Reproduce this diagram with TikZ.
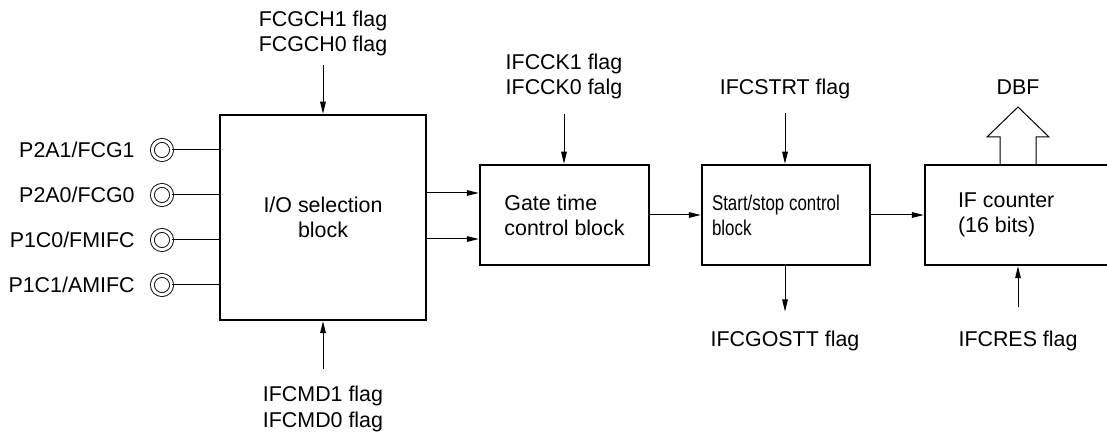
\documentclass[tikz,border=0pt]{standalone}
\usepackage{fontspec}
\setmainfont{Liberation Sans}
\newfontfamily\narrowfont[FakeStretch=0.79]{Liberation Sans}
\usetikzlibrary{arrows.meta}

\begin{document}
\begin{tikzpicture}[x=0.5pt,y=-0.5pt,font=\fontsize{10.7}{12.6}\selectfont,
    blk/.style={draw,line width=1.25pt,minimum height=50pt,inner sep=0pt},
    arr/.style={line width=0.5pt,-{Triangle[length=6pt,width=2.8pt]}},
    lbl/.style={inner sep=0pt,align=center},
    pinring/.style={circle,draw,line width=0.45pt,double,double distance=1.5pt,minimum size=9.6pt,inner sep=0pt}]
\useasboundingbox (0,0) rectangle (1107,432);

% blocks
\node[blk,minimum width=103pt,minimum height=102.5pt,align=center] (io) at (323,217.5) {I/O selection\\block};
\node[blk,minimum width=84.5pt,align=left] (gate) at (564.5,215) {Gate time\\control block};
\node[blk,text width=74pt,inner xsep=5pt,align=flush left,font=\narrowfont\fontsize{10.7}{12.6}\selectfont] (ss) at (786,215) {Start/stop control\\block};
\node[blk,text width=104.5pt,inner xsep=16.5pt,align=flush left] (ifc) at (1062.5,215) {IF counter\\(16 bits)};

% pins
\node[pinring] (pa1) at (162,150) {};
\node[lbl,anchor=base east] (pa1t) at (135,157.5) {P2A1/FCG1};
\draw[line width=0.5pt] (pa1) -- (pa1 -| io.west);
\node[pinring] (pa0) at (162,195) {};
\node[lbl,anchor=base east] (pa0t) at (135,202.5) {P2A0/FCG0};
\draw[line width=0.5pt] (pa0) -- (pa0 -| io.west);
\node[pinring] (pc0) at (162,240) {};
\node[lbl,anchor=base east] (pc0t) at (135,247.5) {P1C0/FMIFC};
\draw[line width=0.5pt] (pc0) -- (pc0 -| io.west);
\node[pinring] (pc1) at (162,285) {};
\node[lbl,anchor=base east] (pc1t) at (135,292.5) {P1C1/AMIFC};
\draw[line width=0.5pt] (pc1) -- (pc1 -| io.west);

% signal path
\draw[arr] ([yshift=11pt]gate.west -| io.east) -- ([yshift=11pt]gate.west);
\draw[arr] ([yshift=-12pt]gate.west -| io.east) -- ([yshift=-12pt]gate.west);
\draw[arr] (gate.east) -- (ss.west);
\draw[arr] (ss.east) -- (ifc.west);

% flags
\node[lbl] (fcgch) at (323,33.5) {FCGCH1 flag\\FCGCH0 flag};
\draw[arr,shorten <=4.5pt] (fcgch) -- (io);
\node[lbl] (ifcmd) at (323,409) {IFCMD1 flag\\IFCMD0 flag};
\draw[arr,shorten <=8.3pt] (ifcmd) -- (io);
\node[lbl] (ifcck) at (564,76.5) {IFCCK1 flag\\IFCCK0 falg};
\draw[arr,shorten <=7.3pt] (ifcck.south) -- (ifcck.south |- gate.north);
\node[lbl,anchor=base] (ifcstrt) at (785,95) {IFCSTRT flag};
\draw[arr,shorten <=6.8pt] (ifcstrt.south) -- (ifcstrt.south |- ss.north);
\node[lbl,anchor=base] (ifcgostt) at (785,347) {IFCGOSTT flag};
\draw[arr,shorten >=9.8pt] (ifcgostt.north |- ss.south) -- (ifcgostt.north);
\node[lbl,anchor=base] (ifcres) at (1018,347) {IFCRES flag};
\draw[arr,shorten <=11.8pt] (ifcres.north) -- (ifcres.north |- ifc.south);

% data bus
\node[lbl,anchor=base] (dbf) at (1018,95) {DBF};
\draw[line width=0.5pt] (1000,165) -- (1000,137) -- (987,137) -- (1018,107) -- (1049,137) -- (1036,137) -- (1036,165);
\end{tikzpicture}
\end{document}
